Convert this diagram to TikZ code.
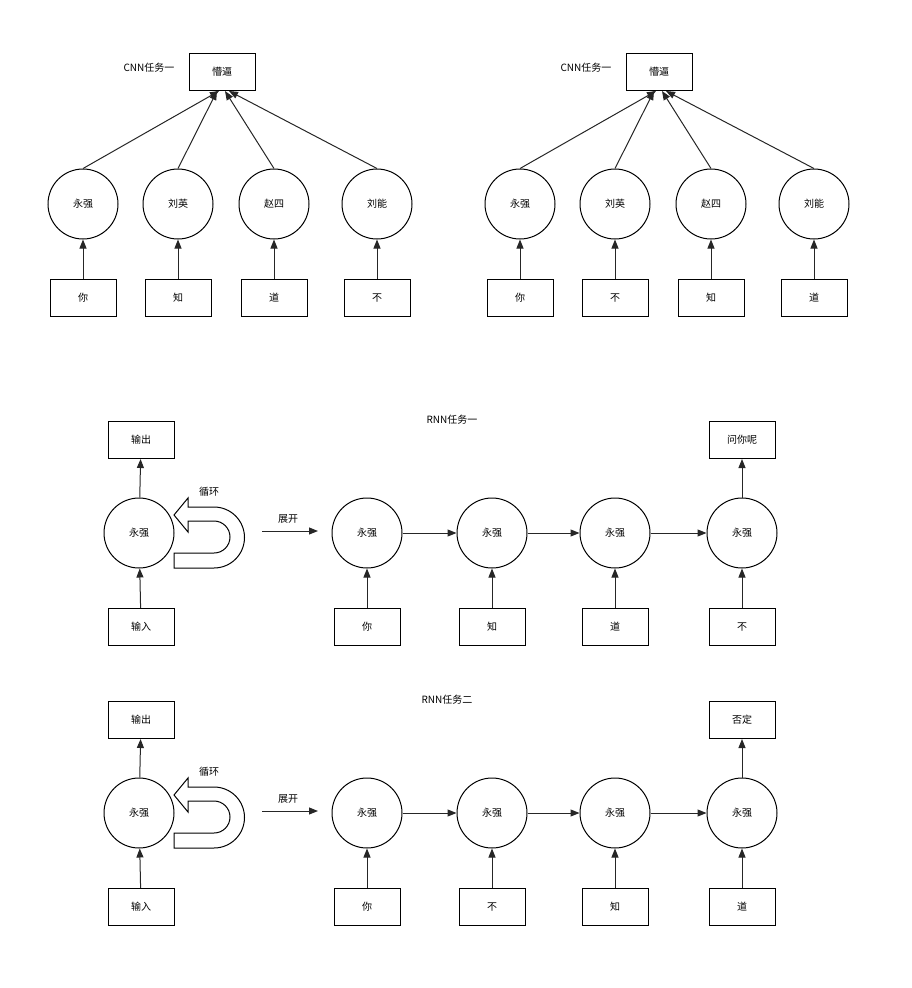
\documentclass[tikz,border=0pt]{standalone}
\usepackage{fontspec}
\setmainfont{Noto Sans CJK SC}
\usetikzlibrary{arrows.meta}
\tikzset{
  cell/.style={draw,circle,minimum size=70pt,inner sep=0pt,font=\fontsize{10}{12}\selectfont},
  word/.style={draw,minimum width=66pt,minimum height=37pt,inner sep=0pt,font=\fontsize{10}{12}\selectfont},
  lbl/.style={font=\fontsize{10}{12}\selectfont},
  flow/.style={-{Triangle[length=9pt,width=7pt]},line width=1pt,draw=black!85}
}
\begin{document}
\begin{tikzpicture}[x=1pt,y=-1pt,line width=1pt]
    \useasboundingbox (0,0) rectangle (911,988);

    % CNN tasks
    \foreach \ox/\t/\qa/\qb/\qc/\qd in {0/l/你/知/道/不, 437/r/你/不/知/道} {
        \node[word] (out\t) at (222+\ox,72) {懵逼};
        \node[lbl] at (149+\ox,68) {CNN任务一};
        \foreach \i/\x/\n/\w/\dx in {1/83/永强/\qa/-3, 2/178/刘英/\qb/-5, 3/274/赵四/\qc/3, 4/377/刘能/\qd/7} {
            \node[cell] (c\t\i) at (\x+\ox,204) {\n};
            \node[word] (w\t\i) at (\x+\ox,298) {\w};
            \draw[flow] (w\t\i) -- (c\t\i);
            \draw[flow] (c\t\i.north) -- ([xshift=\dx pt]out\t.south);
        }
    }

    % RNN tasks
    \foreach \oy/\t/\title/\tx/\res/\qa/\qb/\qc/\qd in {0/a/RNN任务一/452/问你呢/你/知/道/不, 280/b/RNN任务二/447/否定/你/不/知/道} {
        \node[lbl] at (\tx,420+\oy) {\title};
        \node[cell] (loop\t) at (139,533+\oy) {永强};
        \node[word] (lin\t) at (141,627+\oy) {输入};
        \node[word] (lout\t) at (141,440+\oy) {输出};
        \draw[flow] (lin\t) -- (loop\t);
        \draw[flow] (loop\t) -- (lout\t);
        \draw (174,515+\oy) -- (188,498+\oy) -- (188,507+\oy) -- (214,507+\oy)
            arc[start angle=-90,end angle=90,radius=30.5] -- (174,568+\oy) -- (174,553+\oy) -- (214,553+\oy)
            arc[start angle=90,end angle=-90,radius=16] -- (188,521+\oy) -- (188,532+\oy) -- cycle;
        \node[lbl] at (209,492+\oy) {循环};
        \coordinate (ua\t) at (262,531+\oy);
        \coordinate (ub\t) at (318,531+\oy);
        \draw[flow] (ua\t) -- (ub\t);
        \node[lbl] at (288,519+\oy) {展开};
        \foreach \i/\x/\w in {1/367/\qa, 2/492/\qb, 3/615/\qc, 4/742/\qd} {
            \node[cell] (r\t\i) at (\x,533+\oy) {永强};
            \node[word] (i\t\i) at (\x,627+\oy) {\w};
            \draw[flow] (i\t\i) -- (r\t\i);
        }
        \draw[flow] (r\t1) -- (r\t2);
        \draw[flow] (r\t2) -- (r\t3);
        \draw[flow] (r\t3) -- (r\t4);
        \node[word] (res\t) at (742,440+\oy) {\res};
        \draw[flow] (r\t4) -- (res\t);
    }
\end{tikzpicture}
\end{document}
